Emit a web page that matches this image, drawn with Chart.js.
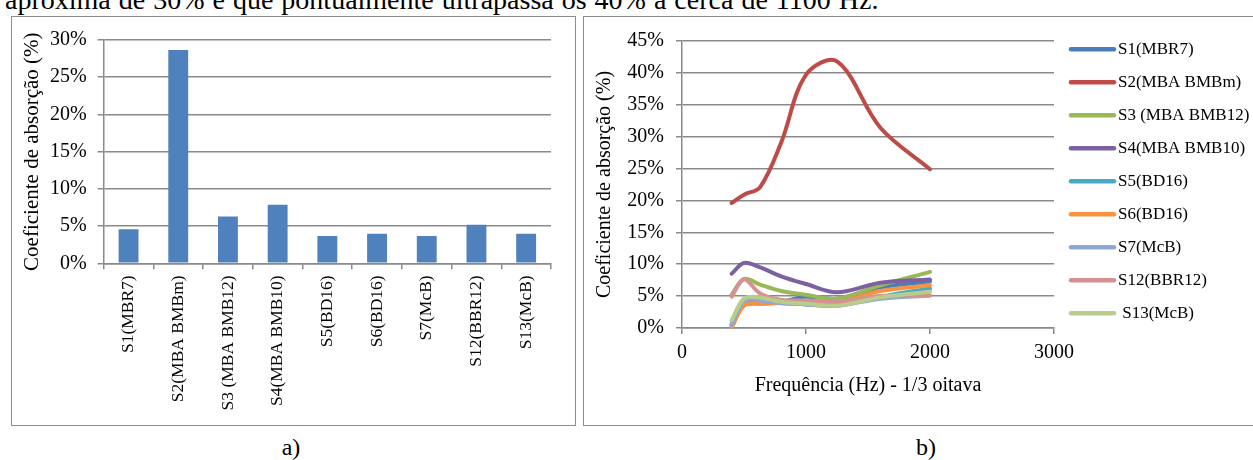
<!DOCTYPE html>
<html lang="pt">
<head>
<meta charset="utf-8">
<title>Coeficiente de absorção</title>
<script src="https://cdn.jsdelivr.net/npm/chart.js@4.4.1/dist/chart.umd.min.js"></script>
<style>
  html, body { margin: 0; padding: 0; background: #fff; }
  body {
    width: 1253px; height: 460px; overflow: hidden; position: relative;
    font-family: "Liberation Serif", "Times New Roman", serif; color: #000;
  }
  .frame { position: absolute; border: 1px solid #8c8c8c; box-sizing: border-box; }
  #frameA { left: 11px; top: 16px; width: 565px; height: 410px; }
  #frameB { left: 583px; top: 16px; width: 700px; height: 410px; }
  canvas { position: absolute; }
  #chartA { left: 12px; top: 17px; }
  #chartB { left: 584px; top: 17px; }
  .cap { position: absolute; top: 434px; font-size: 24px; line-height: 26px; transform: translateX(-50%); }
  #capA { left: 291px; }
  #capB { left: 926px; }
  #lead { position: absolute; left: 5px; top: -14px; font-size: 28px; line-height: 28px; word-spacing: 1px; white-space: nowrap; }
</style>
</head>
<body>
<div id="lead">aproxima de 30% e que pontualmente ultrapassa os 40% a cerca de 1100 Hz.</div>
<div class="frame" id="frameA"></div>
<div class="frame" id="frameB"></div>
<canvas id="chartA" width="563" height="408"></canvas>
<canvas id="chartB" width="669" height="408"></canvas>
<div class="cap" id="capA">a)</div>
<div class="cap" id="capB">b)</div>

<script>
// ---- a) mean absorption coefficient per sample (%) ----
const barCategories = ['S1(MBR7)', 'S2(MBA BMBm)', 'S3 (MBA BMB12)', 'S4(MBA BMB10)', 'S5(BD16)',
                       'S6(BD16)', 'S7(McB)', 'S12(BBR12)', 'S13(McB)'];
const barValues = [4.56, 28.65, 6.29, 7.88, 3.67, 3.98, 3.67, 5.17, 3.98];
const barAxisMax = 30;
const barAxisStep = 5;

// ---- b) absorption coefficient per 1/3 octave band (%) ----
const frequencies = [400, 500, 630, 800, 1000, 1250, 1600, 2000];
const seriesLabels = ['S1(MBR7)', 'S2(MBA BMBm)', 'S3 (MBA BMB12)', 'S4(MBA BMB10)', 'S5(BD16)',
                      'S6(BD16)', 'S7(McB)', 'S12(BBR12)', ' S13(McB)'];
const s1  = [0.6, 3.8, 3.9, 4.1, 4.9, 4.6, 6.4, 7.3];
const s2  = [19.6, 20.9, 22.1, 29.1, 39.7, 41.8, 31.4, 24.9];
const s3  = [5.2, 7.7, 6.8, 5.8, 5.2, 4.6, 6.7, 8.8];
const s4  = [8.5, 10.2, 9.5, 8.1, 6.9, 5.6, 7.1, 7.6];
const s5  = [0.3, 3.6, 3.8, 3.9, 3.7, 3.5, 4.9, 6.2];
const s6  = [0.0, 3.5, 3.8, 3.9, 4.1, 4.0, 5.8, 6.7];
const s7  = [0.5, 4.2, 4.3, 3.9, 3.7, 3.5, 4.6, 5.1];
const s12 = [4.9, 7.6, 5.4, 4.4, 4.3, 4.1, 5.0, 5.1];
const s13 = [1.2, 4.6, 4.8, 4.1, 3.8, 3.5, 4.8, 5.7];
const seriesValues = [s1, s2, s3, s4, s5, s6, s7, s12, s13];
const seriesColors = ['#4A7EBB', '#BE4B48', '#98B954', '#7D60A0', '#46AAC5',
                      '#F69240', '#8DA9D4', '#D69290', '#B8CD8C'];
const freqAxisMax = 3000;
const freqAxisStep = 1000;
const lineAxisMax = 45;
const lineAxisStep = 5;

const gridGrey = '#8a8a8a';
Chart.defaults.font.family = '"Liberation Serif", "Times New Roman", serif';
Chart.defaults.color = '#000';
Chart.defaults.animation = false;

const pct = v => v + '%';

// Legend drawn as a vertical list of line samples to the right of the plot
const seriesLegend = {
  id: 'seriesLegend',
  afterDraw(chart, args, opts) {
    const ctx = chart.ctx;
    ctx.save();
    ctx.font = opts.fontSize + 'px ' + Chart.defaults.font.family;
    ctx.textBaseline = 'middle';
    ctx.textAlign = 'left';
    chart.data.datasets.forEach((ds, i) => {
      const y = opts.top + i * opts.spacing;
      ctx.strokeStyle = ds.borderColor;
      ctx.lineWidth = opts.lineWidth;
      ctx.lineCap = 'round';
      ctx.beginPath();
      ctx.moveTo(opts.left + 2, y);
      ctx.lineTo(opts.left + opts.lineLength - 2, y);
      ctx.stroke();
      ctx.fillStyle = '#000';
      ctx.fillText(ds.label, opts.left + opts.lineLength + opts.gap, y);
    });
    ctx.restore();
  }
};

// ---- chart a) ----
new Chart(document.getElementById('chartA'), {
  type: 'bar',
  data: {
    labels: barCategories,
    datasets: [{
      data: barValues,
      backgroundColor: '#4F81BD',
      borderWidth: 0,
      barPercentage: 0.4,
      categoryPercentage: 1.0
    }]
  },
  options: {
    responsive: false,
    devicePixelRatio: 1,
    layout: { padding: { top: 19, right: 24, bottom: 0, left: 0 } },
    plugins: { legend: { display: false }, tooltip: { enabled: false } },
    scales: {
      x: {
        afterFit: s => { s.height = 161.7; },
        grid: { offset: true, drawOnChartArea: false, drawTicks: true, tickLength: 6, color: gridGrey, lineWidth: 1.5 },
        border: { color: gridGrey, width: 1.5 },
        ticks: { autoSkip: false, minRotation: 90, maxRotation: 90, padding: 6, font: { size: 17.5 } }
      },
      y: {
        min: 0, max: barAxisMax,
        afterFit: s => { s.width = 91.7; },
        grid: { color: gridGrey, tickLength: 6, lineWidth: 1.5 },
        border: { color: gridGrey, width: 1.5 },
        ticks: { stepSize: barAxisStep, padding: 11, font: { size: 20 }, callback: pct },
        title: { display: true, text: 'Coeficiente de absorção (%)', font: { size: 21 }, padding: { top: 8, bottom: 0 } }
      }
    }
  }
});

// ---- chart b) ----
new Chart(document.getElementById('chartB'), {
  type: 'line',
  data: {
    datasets: seriesValues.map((vals, i) => ({
      label: seriesLabels[i],
      data: frequencies.map((f, k) => ({ x: f, y: vals[k] })),
      borderColor: seriesColors[i],
      backgroundColor: seriesColors[i],
      borderWidth: 4,
      borderCapStyle: 'round',
      borderJoinStyle: 'round',
      tension: 0.35,
      pointRadius: 0,
      fill: false,
      order: seriesValues.length - i
    }))
  },
  options: {
    responsive: false,
    devicePixelRatio: 1,
    layout: { padding: { top: 20, right: 199, bottom: 0, left: 0 } },
    plugins: {
      legend: { display: false },
      tooltip: { enabled: false },
      seriesLegend: { left: 485, top: 32.3, spacing: 33, lineLength: 47, lineWidth: 4.5, gap: 2, fontSize: 17 }
    },
    scales: {
      x: {
        type: 'linear', min: 0, max: freqAxisMax,
        afterFit: s => { s.height = 97; },
        grid: { drawOnChartArea: false, drawTicks: true, tickLength: 6, color: gridGrey, lineWidth: 1.5 },
        border: { color: gridGrey, width: 1.5 },
        ticks: { stepSize: freqAxisStep, padding: 7, font: { size: 20 }, callback: v => String(v) },
        title: { display: true, text: 'Frequência (Hz) - 1/3 oitava', font: { size: 20 }, padding: { top: 0, bottom: 27 } }
      },
      y: {
        min: 0, max: lineAxisMax,
        afterFit: s => { s.width = 98; },
        grid: { color: gridGrey, tickLength: 6, lineWidth: 1.5 },
        border: { color: gridGrey, width: 1.5 },
        ticks: { stepSize: lineAxisStep, padding: 12, font: { size: 20 }, callback: pct },
        title: { display: true, text: 'Coeficiente de absorção (%)', font: { size: 20 }, padding: { top: 9, bottom: 0 } }
      }
    }
  },
  plugins: [seriesLegend]
});
</script>
</body>
</html>
